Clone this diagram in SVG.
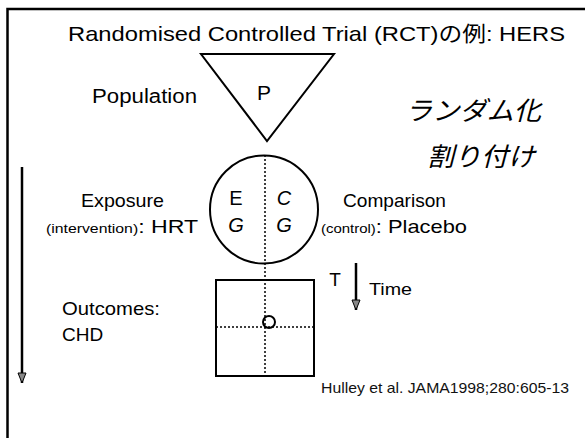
<svg xmlns="http://www.w3.org/2000/svg" width="585" height="438" viewBox="0 0 585 438">
<defs>
<style>
.t{font-family:"Liberation Sans","Noto Sans CJK JP",sans-serif;fill:#000}
.jp{font-family:"Noto Sans CJK JP",sans-serif;font-style:italic;fill:#000}
.cite{font-family:"Liberation Sans",Arial,sans-serif;fill:#111}
.shape{fill:none;stroke:#000;stroke-width:2}
.dot{fill:none;stroke:#000;stroke-width:1.5;stroke-dasharray:2 2}
.arr{fill:none;stroke:#000;stroke-width:2.5}
</style>
<marker id="ah" viewBox="0 0 12 10" refX="11" refY="5" markerWidth="12" markerHeight="10" markerUnits="userSpaceOnUse" orient="auto">
<path d="M1,1 L11,5 L1,9 Z" fill="#888" stroke="#000" stroke-width="1"/>
</marker>
</defs>
<rect width="585" height="438" fill="#fff"/>
<g id="frame">
<path d="M7.5,438 V9 H585" fill="none" stroke="#000" stroke-width="2.5"/>
</g>
<g id="title">
<text class="t" x="68" y="41" font-size="21" textLength="497" lengthAdjust="spacingAndGlyphs">Randomised Controlled Trial (RCT)の例: HERS</text>
</g>
<g id="population">
<path class="shape" d="M201,54 H334 L267,141 Z"/>
<text class="t" x="264" y="100" font-size="21" text-anchor="middle">P</text>
<text class="t" x="92" y="103" font-size="20" textLength="105" lengthAdjust="spacingAndGlyphs">Population</text>
</g>
<g id="randomisation">
<text class="jp" x="405" y="120" font-size="26" textLength="136" lengthAdjust="spacingAndGlyphs">ランダム化</text>
<text class="jp" x="427" y="166" font-size="26" textLength="108" lengthAdjust="spacingAndGlyphs">割り付け</text>
</g>
<g id="groups">
<circle class="shape" cx="264" cy="209.5" r="54"/>
<text class="t" x="236" y="205" font-size="20" text-anchor="middle">E</text>
<text class="t" x="236" y="232" font-size="20" font-style="italic" text-anchor="middle">G</text>
<text class="t" x="284" y="205" font-size="20" font-style="italic" text-anchor="middle">C</text>
<text class="t" x="284" y="232" font-size="20" font-style="italic" text-anchor="middle">G</text>
</g>
<g id="exposure">
<text class="t" x="81" y="207" font-size="19" textLength="83" lengthAdjust="spacingAndGlyphs">Exposure</text>
<text class="t" x="46" y="233" font-size="19" textLength="152" lengthAdjust="spacingAndGlyphs"><tspan font-size="13">(intervention)</tspan>: HRT</text>
</g>
<g id="comparison">
<text class="t" x="343" y="207" font-size="19" textLength="103" lengthAdjust="spacingAndGlyphs">Comparison</text>
<text class="t" x="321" y="233" font-size="19" textLength="146" lengthAdjust="spacingAndGlyphs"><tspan font-size="13">(control)</tspan>: Placebo</text>
</g>
<g id="outcomes">
<rect class="shape" x="216" y="280" width="98" height="96"/>
<circle class="shape" cx="269" cy="322" r="6"/>
<text class="t" x="62" y="315" font-size="19" textLength="98" lengthAdjust="spacingAndGlyphs">Outcomes:</text>
<text class="t" x="62" y="341" font-size="19">CHD</text>
</g>
<g id="time">
<text class="t" x="335" y="286" font-size="19" text-anchor="middle">T</text>
<text class="t" x="369" y="295" font-size="16" textLength="43" lengthAdjust="spacingAndGlyphs">Time</text>
</g>
<g id="connectors">
<line class="dot" x1="265" y1="155" x2="265" y2="376"/>
<line class="dot" x1="216" y1="327" x2="314" y2="327"/>
<line class="arr" x1="22" y1="167" x2="22" y2="383" marker-end="url(#ah)"/>
<line class="arr" x1="356" y1="263" x2="356" y2="310" marker-end="url(#ah)"/>
</g>
<g id="citation">
<text class="cite" x="321" y="393" font-size="14.5" textLength="248" lengthAdjust="spacingAndGlyphs">Hulley et al. JAMA1998;280:605-13</text>
</g>
</svg>
